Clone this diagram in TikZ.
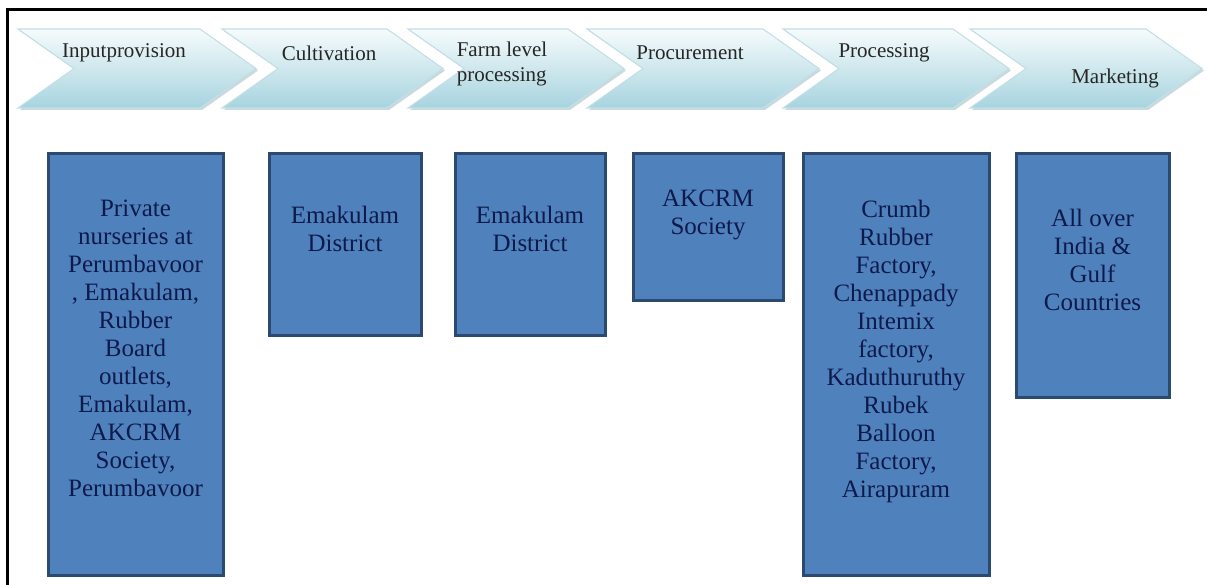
\documentclass[tikz,border=0pt]{standalone}
\usepackage{fontspec}
\setmainfont{LiberationSerif}[Extension=.ttf,UprightFont=*-Regular]
\usepackage{tikz}

\definecolor{chevtop}{HTML}{F6FBFC}
\definecolor{chevmid}{HTML}{D3EBF1}
\definecolor{chevbot}{HTML}{A7D4DF}
\definecolor{chevline}{HTML}{C2DFE6}
\definecolor{chevshade}{HTML}{8AAAB3}
\definecolor{boxfill}{HTML}{4F81BD}
\definecolor{boxline}{HTML}{2B4A70}
\definecolor{boxink}{HTML}{0E1A4C}

\begin{document}
\begin{tikzpicture}[x=0.75pt,y=-0.75pt,
  chevron/.style={top color=chevtop,middle color=chevmid,bottom color=chevbot,
    draw=chevline,line width=0.8pt},
  stagetext/.style={inner sep=0pt,text=black!85,
    font=\fontsize{15.75}{18.75}\selectfont},
  stagebox/.style={fill=boxfill,draw=boxline,line width=2.25pt},
  placetext/.style={anchor=north,inner sep=0pt,align=center,text=boxink,
    font=\fontsize{18.75}{21}\selectfont}]
  \useasboundingbox (0,0) rectangle (1207,585);

  % frame
  \draw[line width=2.25pt] (7,585) -- (7,10) -- (1207,10);

  % value chain stages
  \foreach \l/\r in {18/200,222/387,408/568,587/763,783/953,970/1146} {
    \fill[chevshade,opacity=.45] (\l+2,31) -- (\r+2,31) -- (\r+58,70.5)
      -- (\r+2,110) -- (\l+2,110) -- (\l+58,70.5) -- cycle;
    \path[chevron] (\l,29) -- (\r,29) -- (\r+56,68.5) -- (\r,108)
      -- (\l,108) -- (\l+56,68.5) -- cycle;
  }

  \node[stagetext] (input) at (124,53) {Inputprovision};
  \node[stagetext] (cult) at (329,53) {Cultivation};
  \node[stagetext,align=left] (farm) at (502,64) {Farm level\\processing};
  \node[stagetext] (procure) at (690,53) {Procurement};
  \node[stagetext] (process) at (884,53) {Processing};
  \node[stagetext] (market) at (1115,78) {Marketing};

  % places
  \draw[stagebox] (48,153) rectangle (223,575);
  \draw[stagebox] (269,153) rectangle (421,335);
  \draw[stagebox] (455,153) rectangle (605,335);
  \draw[stagebox] (633,153) rectangle (783,300);
  \draw[stagebox] (803,153) rectangle (989,575);
  \draw[stagebox] (1016,153) rectangle (1169,397);

  \node[placetext] (inputat) at (135.5,200) {Private\\nurseries at\\Perumbavoor\\, Emakulam,\\Rubber\\Board\\outlets,\\Emakulam,\\AKCRM\\Society,\\Perumbavoor};
  \node[placetext] (cultat) at (345,206) {Emakulam\\District};
  \node[placetext] (farmat) at (530,206) {Emakulam\\District};
  \node[placetext] (procureat) at (708,190) {AKCRM\\Society};
  \node[placetext] (processat) at (896,200) {Crumb\\Rubber\\Factory,\\Chenappady\\Intemix\\factory,\\Kaduthuruthy\\Rubek\\Balloon\\Factory,\\Airapuram};
  \node[placetext] (marketat) at (1092.5,209) {All over\\India \&\\Gulf\\Countries};
\end{tikzpicture}
\end{document}
